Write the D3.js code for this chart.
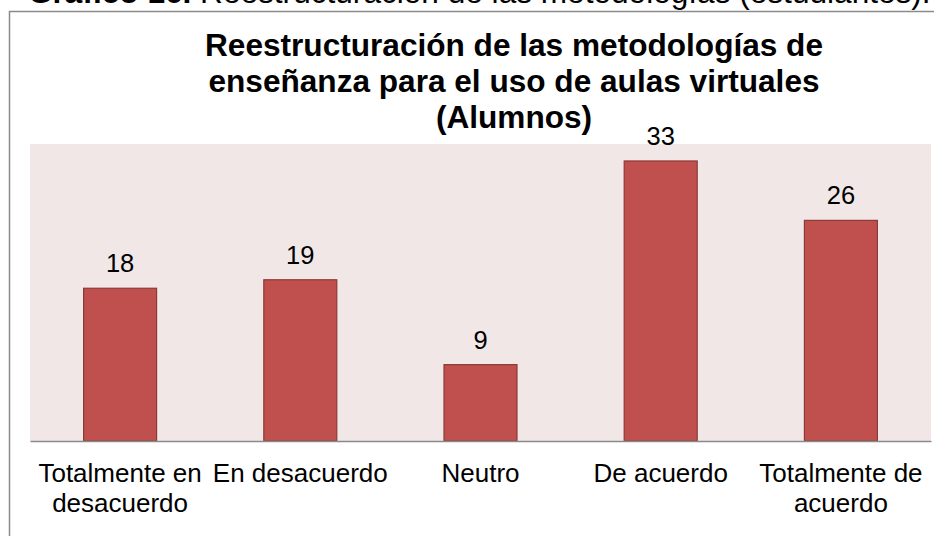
<!DOCTYPE html>
<html>
<head>
<meta charset="utf-8">
<script src="https://cdn.jsdelivr.net/npm/d3@7"></script>
<style>
  html, body { margin: 0; padding: 0; background: #ffffff; }
  svg { display: block; font-family: Arial, "Liberation Sans", sans-serif; }
</style>
</head>
<body>
<svg id="chart" width="934" height="536"></svg>
<script>
const categories = [["Totalmente en", "desacuerdo"], ["En desacuerdo"], ["Neutro"], ["De acuerdo"], ["Totalmente de", "acuerdo"]];
const values = [18, 19, 9, 33, 26];
const titleLines = ["Reestructuración de las metodologías de", "enseñanza para el uso de aulas virtuales", "(Alumnos)"];
const captionBold = "Gráfico 16.";
const captionText = " Reestructuración de las metodologías (estudiantes).";
const yDomain = [0, 35];

const svg = d3.select("#chart");
const W = 934, H = 536;
const plot = { left: 30, right: 931, top: 144, bottom: 441 };

// caption (clipped at top)
svg.append("text")
  .attr("x", 28).attr("y", 3)
  .attr("font-size", 31.6)
  .attr("fill", "#000")
  .call(t => {
    t.append("tspan").attr("font-weight", "bold").text(captionBold);
    t.append("tspan").text(captionText);
  });

// chart frame
svg.append("rect")
  .attr("x", 9.5).attr("y", 11.5)
  .attr("width", 1100).attr("height", 700)
  .attr("fill", "none")
  .attr("stroke", "#8a8a8a")
  .attr("stroke-width", 1.5);

// title
const title = svg.append("text")
  .attr("text-anchor", "middle")
  .attr("font-size", 31.6)
  .attr("font-weight", "bold")
  .attr("fill", "#000");
titleLines.forEach((l, i) => {
  title.append("tspan").attr("x", 514).attr("y", 56 + i * 36).text(l);
});

const names = categories.map(c => c.join(" "));
const x = d3.scaleBand().domain(names).range([plot.left, plot.right]).paddingInner(0.595).paddingOuter(0.2975);
const y = d3.scaleLinear().domain(yDomain).range([plot.bottom, plot.top]);

// plot area background
svg.append("rect")
  .attr("x", plot.left).attr("y", y(yDomain[1]))
  .attr("width", plot.right - plot.left)
  .attr("height", y(yDomain[0]) - y(yDomain[1]))
  .attr("fill", "#f2e7e7");

// bars
svg.append("g").selectAll("rect")
  .data(values)
  .join("rect")
  .attr("x", (d, i) => x(names[i]))
  .attr("y", d => y(d))
  .attr("width", x.bandwidth())
  .attr("height", d => y(0) - y(d))
  .attr("fill", "#c0504d")
  .attr("stroke", "#8c3a38")
  .attr("stroke-width", 1.2);

// data labels
svg.append("g").selectAll("text")
  .data(values)
  .join("text")
  .attr("x", (d, i) => x(names[i]) + x.bandwidth() / 2)
  .attr("y", d => y(d) - 16)
  .attr("text-anchor", "middle")
  .attr("font-size", 25.5)
  .attr("fill", "#000")
  .text(d => d);

// x axis
const xAxis = d3.axisBottom(x).tickSize(0).tickFormat("");
const ax = svg.append("g").attr("transform", `translate(0,${y(0)})`).call(xAxis);
ax.select(".domain").attr("stroke", "#8a8a8a").attr("stroke-width", 1.5);

// category labels
const lab = svg.append("g");
categories.forEach((c, i) => {
  const t = lab.append("text")
    .attr("text-anchor", "middle")
    .attr("font-size", 26)
    .attr("fill", "#000");
  c.forEach((line, j) => {
    t.append("tspan")
      .attr("x", x(names[i]) + x.bandwidth() / 2)
      .attr("y", 482 + j * 30)
      .text(line);
  });
});
</script>
</body>
</html>
